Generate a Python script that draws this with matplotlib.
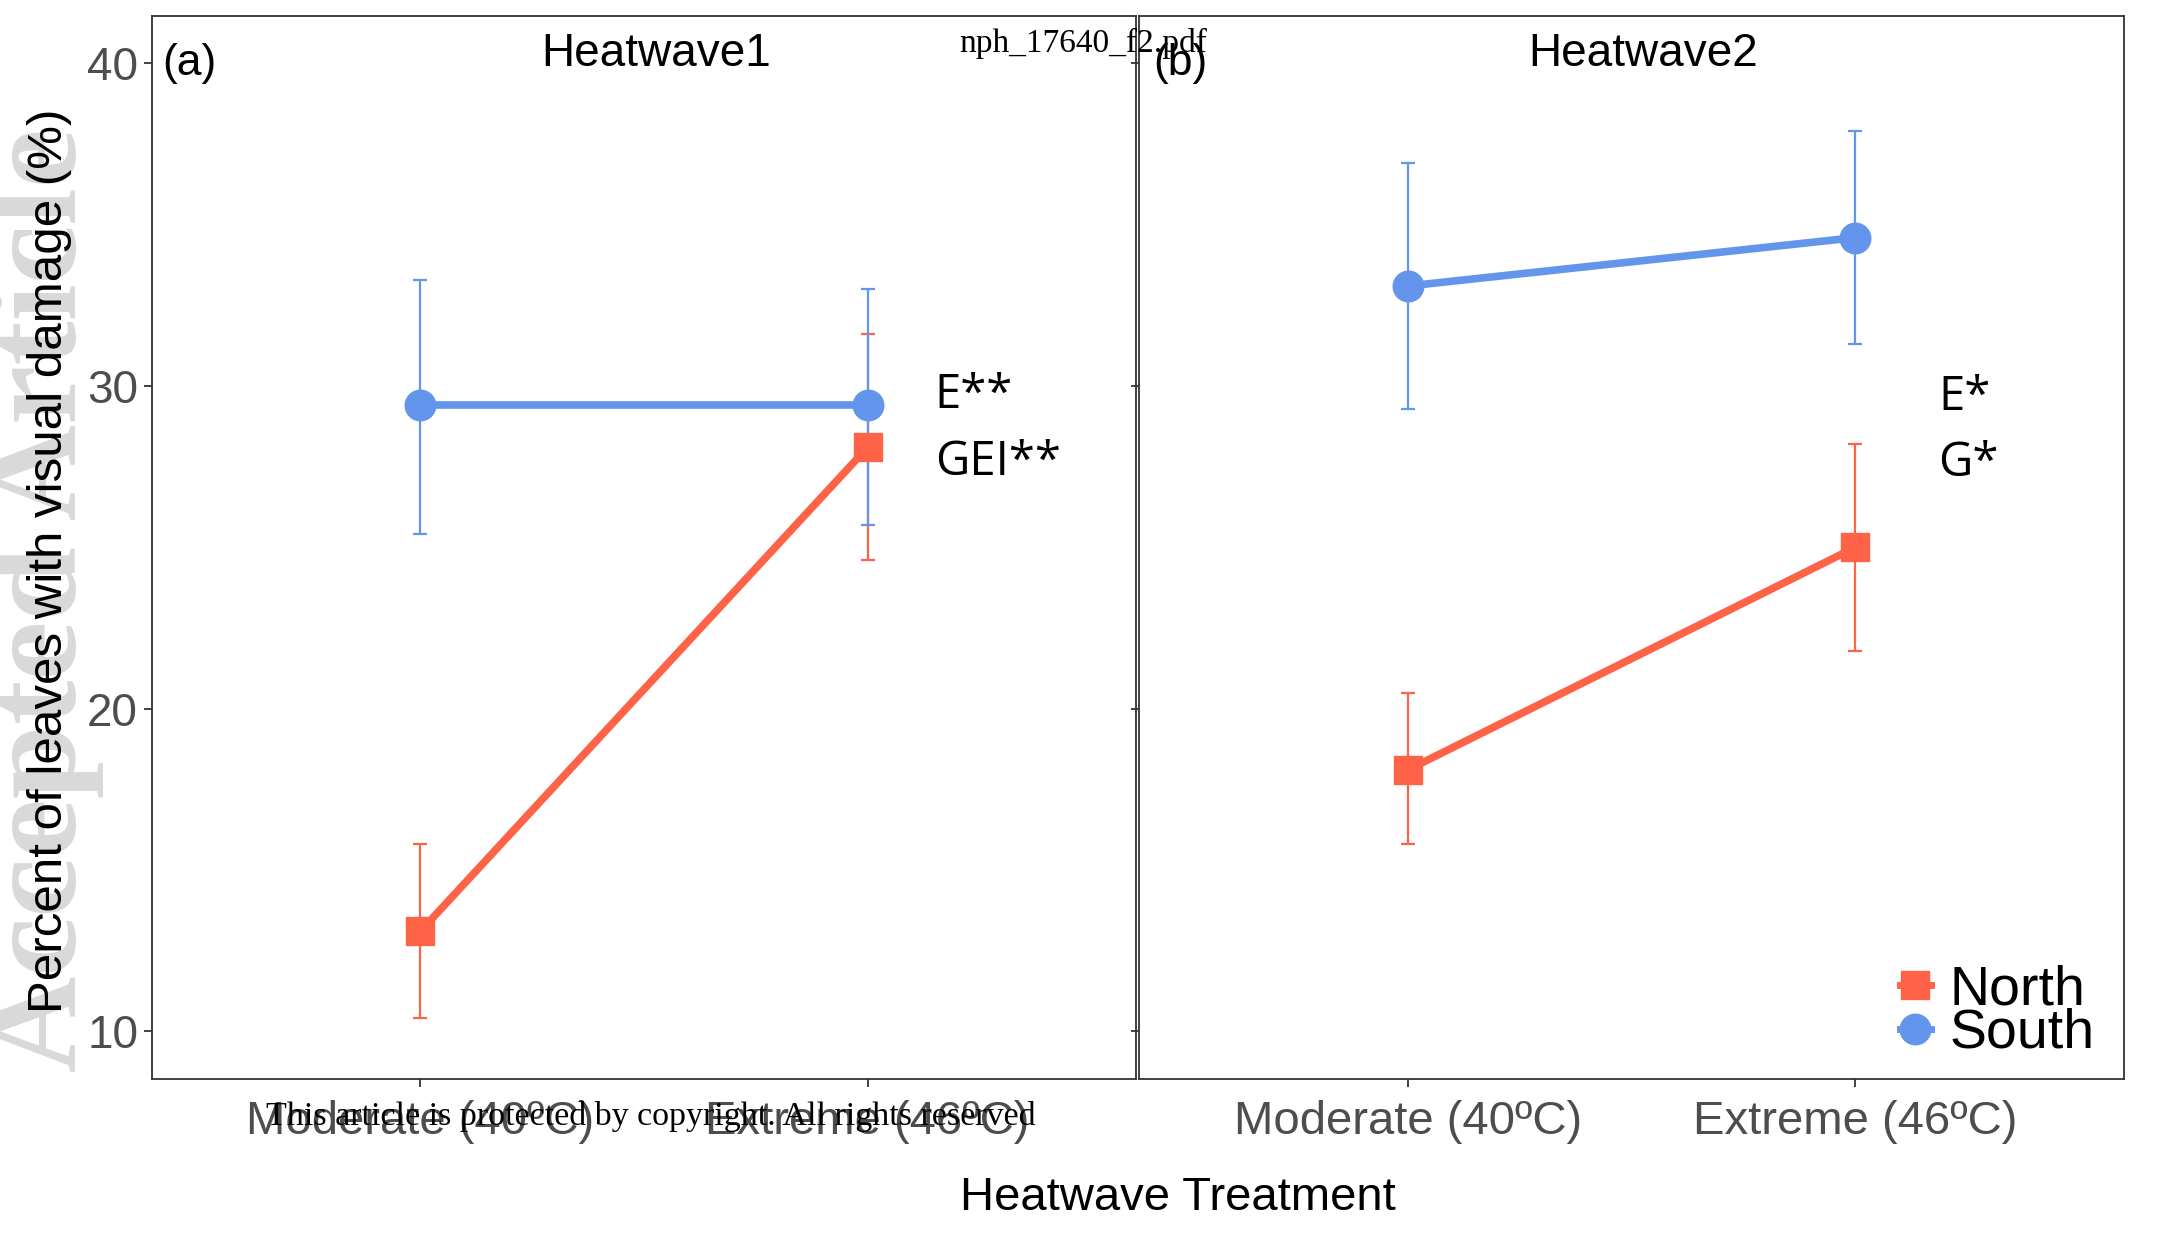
import numpy as np
import matplotlib
matplotlib.use('Agg')
import matplotlib.pyplot as plt
from matplotlib.lines import Line2D

plt.rcParams['font.family'] = ['Liberation Sans', 'DejaVu Sans']

# data
treatments = ['Moderate (40ºC)', 'Extreme (46ºC)']
panels = ['Heatwave1', 'Heatwave2']
panel_tags = ['(a)', '(b)']

north_mean = [[13.1, 28.1], [18.1, 25.0]]
north_lo = [[10.4, 24.6], [15.8, 21.8]]
north_hi = [[15.8, 31.6], [20.5, 28.2]]

south_mean = [[29.4, 29.4], [33.1, 34.6]]
south_lo = [[25.4, 25.7], [29.3, 31.3]]
south_hi = [[33.3, 33.0], [36.9, 37.9]]

sig_labels = [['E**', 'GEI**'], ['E*', 'G*']]
sig_y = [[29.7, 27.65], [29.65, 27.6]]

north_col = '#FF6347'
south_col = '#6495ED'
grey30 = '#4D4D4D'

W, H = 2167, 1236
fig = plt.figure(figsize=(W / 100, H / 100), dpi=100)

ax_a = fig.add_axes([152 / W, 1 - 1079 / H, 984 / W, 1063 / H])
ax_b = fig.add_axes([1139 / W, 1 - 1079 / H, 985 / W, 1063 / H])
axes = [ax_a, ax_b]

x = np.arange(1, len(treatments) + 1)

for i, ax in enumerate(axes):
    nm = np.array(north_mean[i])
    sm = np.array(south_mean[i])
    n_err = [nm - np.array(north_lo[i]), np.array(north_hi[i]) - nm]
    s_err = [sm - np.array(south_lo[i]), np.array(south_hi[i]) - sm]

    ax.errorbar(x, nm, yerr=n_err, fmt='none', ecolor=north_col, elinewidth=1.6,
                capsize=5, capthick=1.6, zorder=2)
    ax.errorbar(x, sm, yerr=s_err, fmt='none', ecolor=south_col, elinewidth=1.6,
                capsize=5, capthick=1.6, zorder=2)
    ax.plot(x, nm, color=north_col, lw=5.5, marker='s', ms=20, zorder=3)
    ax.plot(x, sm, color=south_col, lw=5.5, marker='o', ms=22, zorder=3)

    ax.set_xlim(0.4, 2.6)
    ax.set_ylim(8.52, 41.47)
    ax.set_yticks([10, 20, 30, 40])
    ax.set_xticks(x)
    ax.set_xticklabels(treatments, fontsize=34, color=grey30)
    for s in ax.spines.values():
        s.set_color('#333333')
        s.set_linewidth(1.3)
    ax.tick_params(direction='out', length=6, width=1.3, color='#333333', pad=4)
    ax.tick_params(axis='x', pad=9)
    if i == 0:
        ax.set_yticklabels(['10', '20', '30', '40'], fontsize=33, color=grey30)
    else:
        ax.set_yticklabels([])

    ax.text(0.512, 0.964, panels[i], transform=ax.transAxes, fontsize=33,
            ha='center', va='center')
    ax.text(0.010 if i == 0 else 0.014, 0.955, panel_tags[i], transform=ax.transAxes,
            fontsize=32, ha='left', va='center')
    for lab, yy in zip(sig_labels[i], sig_y[i]):
        ax.text(2.15 if i == 0 else 2.185, yy, lab, fontsize=34, ha='left', va='center',
                family=['Open Sans', 'DejaVu Sans'])

handles = [Line2D([], [], color=north_col, lw=5, marker='s', ms=20),
           Line2D([], [], color=south_col, lw=5, marker='o', ms=22)]
ax_b.legend(handles, ['North', 'South'], loc='lower left',
            bbox_to_anchor=((1900 - 1139) / 985, (1079 - 1060) / 1063),
            frameon=False, fontsize=40, handlelength=0.55, handletextpad=0.35,
            labelspacing=-0.15, borderpad=0, borderaxespad=0)

fig.text(1178 / W, 1 - 1198 / H, 'Heatwave Treatment', fontsize=34,
         ha='center', va='center')
fig.text(50 / W, 1 - 561 / H, 'Percent of leaves with visual damage (%)',
         fontsize=35.5, rotation=90, ha='center', va='center', zorder=5)

# watermarks from the source pdf
fig.text(44 / W, 1 - 600 / H, 'Accepted Article', fontsize=96, rotation=90,
         ha='center', va='center', color='#D9D9D9', fontweight='bold',
         family=['Liberation Serif', 'DejaVu Serif'], zorder=0)
fig.text(1083 / W, 1 - 43 / H, 'nph_17640_f2.pdf', fontsize=24,
         ha='center', va='center', family=['Liberation Serif', 'DejaVu Serif'])
fig.text(651 / W, 1 - 1117 / H,
         'This article is protected by copyright. All rights reserved',
         fontsize=24.5, ha='center', va='center',
         family=['Liberation Serif', 'DejaVu Serif'])

fig.savefig('out.png', dpi=100)
